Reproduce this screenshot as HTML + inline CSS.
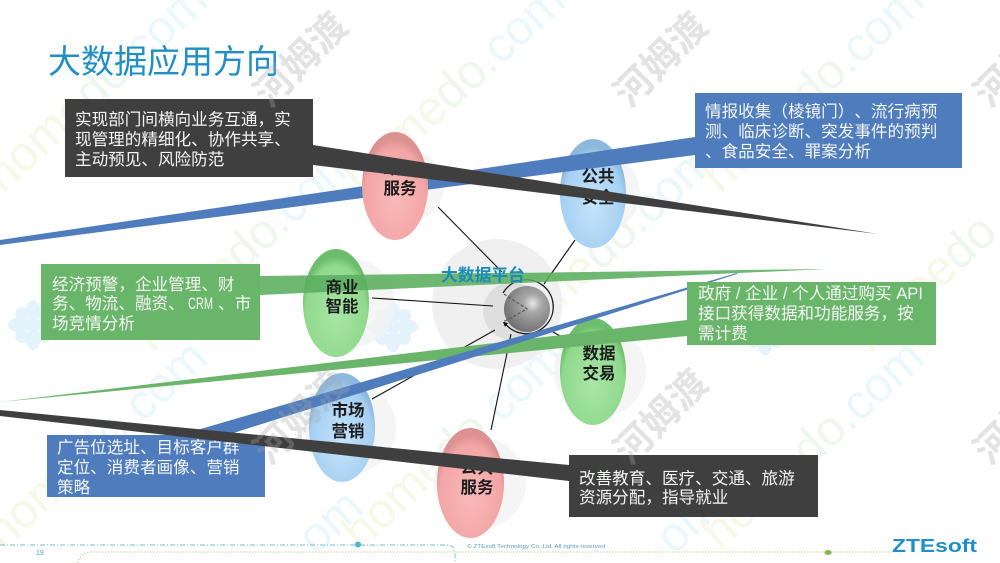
<!DOCTYPE html>
<html><head><meta charset="utf-8"><style>
html,body{margin:0;padding:0;background:#fff;width:1000px;height:563px;overflow:hidden}
svg{display:block}
text{font-family:"Liberation Sans","Noto Sans CJK SC",sans-serif;text-spacing-trim:space-all}
.t{font-size:16.6px;fill:#f4f6f4}
.l{font-size:16.5px;font-weight:700;fill:#1c1c1c;text-anchor:middle}
.wm{font-size:48.6px;font-family:"Liberation Sans",sans-serif}
.cn{font-size:38px;font-weight:700;fill:#a8a8a8;text-anchor:middle}
</style></head><body>
<svg width="1000" height="563" viewBox="0 0 1000 563" xmlns="http://www.w3.org/2000/svg">
<defs>
<radialGradient id="r" cx=".5" cy=".62" r=".55"><stop offset="0" stop-color="#f9b9b9"/><stop offset=".85" stop-color="#f3a5a5"/><stop offset="1" stop-color="#dd9292"/></radialGradient>
<radialGradient id="b" cx=".5" cy=".62" r=".55"><stop offset="0" stop-color="#c5e3fa"/><stop offset=".85" stop-color="#a5d0f2"/><stop offset="1" stop-color="#8cb9dc"/></radialGradient>
<radialGradient id="g" cx=".5" cy=".62" r=".55"><stop offset="0" stop-color="#a9e6a6"/><stop offset=".85" stop-color="#8fd98c"/><stop offset="1" stop-color="#6cbd6c"/></radialGradient>
<radialGradient id="s" cx=".62" cy=".38" r=".65"><stop offset="0" stop-color="#e8e8e8"/><stop offset=".3" stop-color="#a8a8a8"/><stop offset="1" stop-color="#707070"/></radialGradient>
<g id="fl" fill="#e4f3fb">
<circle r="8"/>
<ellipse cx="0" cy="-15" rx="7" ry="10"/><ellipse cx="0" cy="15" rx="7" ry="10"/><ellipse cx="-15" cy="0" rx="10" ry="7"/><ellipse cx="15" cy="0" rx="10" ry="7"/>
<ellipse cx="-11" cy="-11" rx="7" ry="7"/><ellipse cx="11" cy="-11" rx="7" ry="7"/><ellipse cx="-11" cy="11" rx="7" ry="7"/><ellipse cx="11" cy="11" rx="7" ry="7"/>
</g>
</defs>

<!-- watermarks -->
<g opacity=".35">
<g transform="translate(3,194) rotate(-42.500)"><text class="wm"><tspan fill="#e6edbc">home</tspan><tspan fill="#cfe8cf">do</tspan><tspan fill="#c4ecf4">.com</tspan></text></g>
<g transform="translate(361,194) rotate(-42.500)"><text class="wm"><tspan fill="#e6edbc">home</tspan><tspan fill="#cfe8cf">do</tspan><tspan fill="#c4ecf4">.com</tspan></text></g>
<g transform="translate(720,194) rotate(-42.500)"><text class="wm"><tspan fill="#e6edbc">home</tspan><tspan fill="#cfe8cf">do</tspan><tspan fill="#c4ecf4">.com</tspan></text></g>
<g transform="translate(153,354) rotate(-42.500)"><text class="wm"><tspan fill="#e6edbc">home</tspan><tspan fill="#cfe8cf">do</tspan><tspan fill="#c4ecf4">.com</tspan></text></g>
<g transform="translate(511,354) rotate(-42.500)"><text class="wm"><tspan fill="#e6edbc">home</tspan><tspan fill="#cfe8cf">do</tspan><tspan fill="#c4ecf4">.com</tspan></text></g>
<g transform="translate(870,354) rotate(-42.500)"><text class="wm"><tspan fill="#e6edbc">home</tspan><tspan fill="#cfe8cf">do</tspan></text></g>
<g transform="translate(3,551) rotate(-42.500)"><text class="wm"><tspan fill="#e6edbc">home</tspan><tspan fill="#cfe8cf">do</tspan><tspan fill="#c4ecf4">.com</tspan></text></g>
<g transform="translate(361,551) rotate(-42.500)"><text class="wm"><tspan fill="#e6edbc">home</tspan><tspan fill="#cfe8cf">do</tspan><tspan fill="#c4ecf4">.com</tspan></text></g>
<g transform="translate(720,551) rotate(-42.500)"><text class="wm"><tspan fill="#e6edbc">home</tspan><tspan fill="#cfe8cf">do</tspan><tspan fill="#c4ecf4">.com</tspan></text></g>
<g transform="translate(316,556) rotate(-42.500)"><text class="wm" fill="#c4ecf4">om</text></g>
<g transform="translate(674,556) rotate(-42.500)"><text class="wm" fill="#c4ecf4">om</text></g>
</g>

<use href="#fl" x="33" y="325"/>
<use href="#fl" x="393" y="327"/>
<use href="#fl" x="765" y="330"/>

<!-- halos -->
<g fill="#f3f3f3" opacity=".8">
<circle cx="408" cy="186" r="36"/><circle cx="350" cy="303" r="45"/><circle cx="600" cy="193" r="40"/>
<circle cx="600" cy="371" r="46"/><circle cx="350" cy="428" r="46"/><circle cx="480" cy="483" r="46"/>
</g>
<circle cx="497" cy="304" r="65" fill="#f0f0f0"/>
<circle cx="512" cy="311" r="29" fill="#dedede"/>

<!-- back shapes -->
<ellipse cx="593" cy="193.5" rx="33" ry="54.5" fill="url(#b)"/>
<polygon points="695,137 695,155 0,245 0,240" fill="#4e7cbd"/>
<ellipse cx="395" cy="186" rx="33" ry="54" fill="url(#r)"/>
<ellipse cx="336" cy="303" rx="33" ry="54" fill="url(#g)"/>
<ellipse cx="593" cy="371.5" rx="33" ry="53.5" fill="url(#g)"/>
<ellipse cx="342" cy="427.5" rx="33" ry="54.5" fill="url(#b)"/>
<ellipse cx="470.500" cy="483" rx="33.500" ry="55" fill="url(#r)"/>

<!-- connectors -->
<g stroke="#111" stroke-width="1.1" fill="none">
<line x1="438" y1="207" x2="502" y2="272"/>
<line x1="544" y1="284" x2="575" y2="240"/>
<line x1="372" y1="298" x2="493" y2="306"/>
<line x1="372" y1="399" x2="495" y2="330"/>
<line x1="491" y1="430" x2="511" y2="334"/>
<line x1="553" y1="332" x2="562" y2="337"/>
</g>

<!-- sphere -->
<circle cx="527" cy="309" r="23" fill="url(#s)"/>
<path d="M503,293 A27,27 0 1 1 504,322" fill="none" stroke="#1a1a1a" stroke-width="1.3"/>
<path d="M504,294 L527,309 L503,322" fill="none" stroke="#555" stroke-width="1.2" stroke-dasharray="3 2"/>
<polygon points="503,322 508,323 505,327" fill="#111"/>

<!-- labels under tails -->
<text class="l" x="400" y="174">政务</text><text class="l" x="400" y="194">服务</text>
<text class="l" x="598" y="182">公共</text><text class="l" x="598" y="203">安全</text>
<text class="l" x="599" y="359">数据</text><text class="l" x="599" y="379">交易</text>
<text class="l" x="348" y="416">市场</text><text class="l" x="348" y="437">营销</text>
<text class="l" x="477" y="473">公共</text><text class="l" x="477" y="493">服务</text>

<!-- tails -->
<polygon points="260,276 260,295 827,269" fill="#5aae5e" fill-opacity=".88"/>
<text x="441" y="281" font-size="16.8" font-weight="700" fill="#1b8cb9">大数据平台</text>
<text class="l" x="342" y="293">商业</text><text class="l" x="342" y="312">智能</text>
<polygon points="687,320 687,336 0,402" fill="#69b56a"/>
<polygon points="180,435 227,435 737,274 737,273" fill="#4e7cbd"/>
<polygon points="313,145 313,165 878,234" fill="#3f3f3f"/>

<!-- boxes -->
<rect x="65" y="99" width="248" height="78" fill="#3f3f3f"/>
<rect x="41" y="264" width="219" height="76" fill="#69b56a"/>
<rect x="695" y="93" width="267" height="75" fill="#4e7cbd"/>
<rect x="687" y="282" width="249" height="63" fill="#69b56a"/>
<rect x="47" y="435" width="218" height="62" fill="#4e7cbd"/>
<rect x="569" y="455" width="249" height="62" fill="#3f3f3f"/>

<text class="t" x="75" y="125">实现部门间横向业务互通，实</text>
<text class="t" x="75" y="145">现管理的精细化、协作共享、</text>
<text class="t" x="75" y="165">主动预见、风险防范</text>
<text class="t" x="52" y="290">经济预警，企业管理、财</text>
<text class="t" x="52" y="309">务、物流、融资、</text>
<text class="t" x="188" y="309" textLength="25" lengthAdjust="spacingAndGlyphs">CRM</text>
<text class="t" x="218" y="309">、市</text>
<text class="t" x="52" y="329">场竞情分析</text>
<text class="t" x="705" y="117">情报收集（棱镜门）、流行病预</text>
<text class="t" x="705" y="137">测、临床诊断、突发事件的预判</text>
<text class="t" x="705" y="157">、食品安全、罪案分析</text>
<text class="t" x="698" y="299">政府 / 企业 / 个人通过购买 API</text>
<text class="t" x="698" y="319">接口获得数据和功能服务，按</text>
<text class="t" x="698" y="339">需计费</text>
<text class="t" x="57" y="453">广告位选址、目标客户群</text>
<text class="t" x="57" y="473">定位、消费者画像、营销</text>
<text class="t" x="57" y="493">策略</text>
<text class="t" x="579" y="484">改善教育、医疗、交通、旅游</text>
<text class="t" x="579" y="503">资源分配，指导就业</text>

<polygon points="569,465 569,481 0,416 0,410" fill="#3f3f3f"/>

<text x="48" y="73" font-size="33" fill="#1f8fc6">大数据应用方向</text>

<!-- footer -->
<path d="M0,545 H447 Q454,545 455,552 V563" fill="none" stroke="#6cc0d0" stroke-width=".9" stroke-dasharray="5 2 1 2"/>
<circle cx="358" cy="544.500" r="3" fill="#48b8d0"/>
<path d="M78,563 Q80,552 92,552 H892" fill="none" stroke="#9dbb6a" stroke-width="1" stroke-dasharray="1 2"/>
<ellipse cx="828" cy="552.500" rx="3.500" ry="2.500" fill="#8ab45a"/>
<text x="36" y="555" font-size="7" fill="#4aa8d0">19</text>
<text x="467" y="548" font-size="5.3" fill="#5a9dc0" textLength="138" lengthAdjust="spacingAndGlyphs">© ZTEsoft Technology Co.,Ltd. All rights reserved</text>
<text x="892" y="552" font-size="18" font-weight="700" fill="#1f8fc8" textLength="85" lengthAdjust="spacingAndGlyphs">ZTEsoft</text>

<g opacity=".32">
<text class="cn" transform="translate(310,69) rotate(-45)">河姆渡</text>
<text class="cn" transform="translate(670,69) rotate(-45)">河姆渡</text>
<text class="cn" transform="translate(1030,69) rotate(-45)">河姆渡</text>
<text class="cn" transform="translate(310,426) rotate(-45)">河姆渡</text>
<text class="cn" transform="translate(670,426) rotate(-45)">河姆渡</text>
<text class="cn" transform="translate(1030,426) rotate(-45)">河姆渡</text>
</g>
</svg>
</body></html>
